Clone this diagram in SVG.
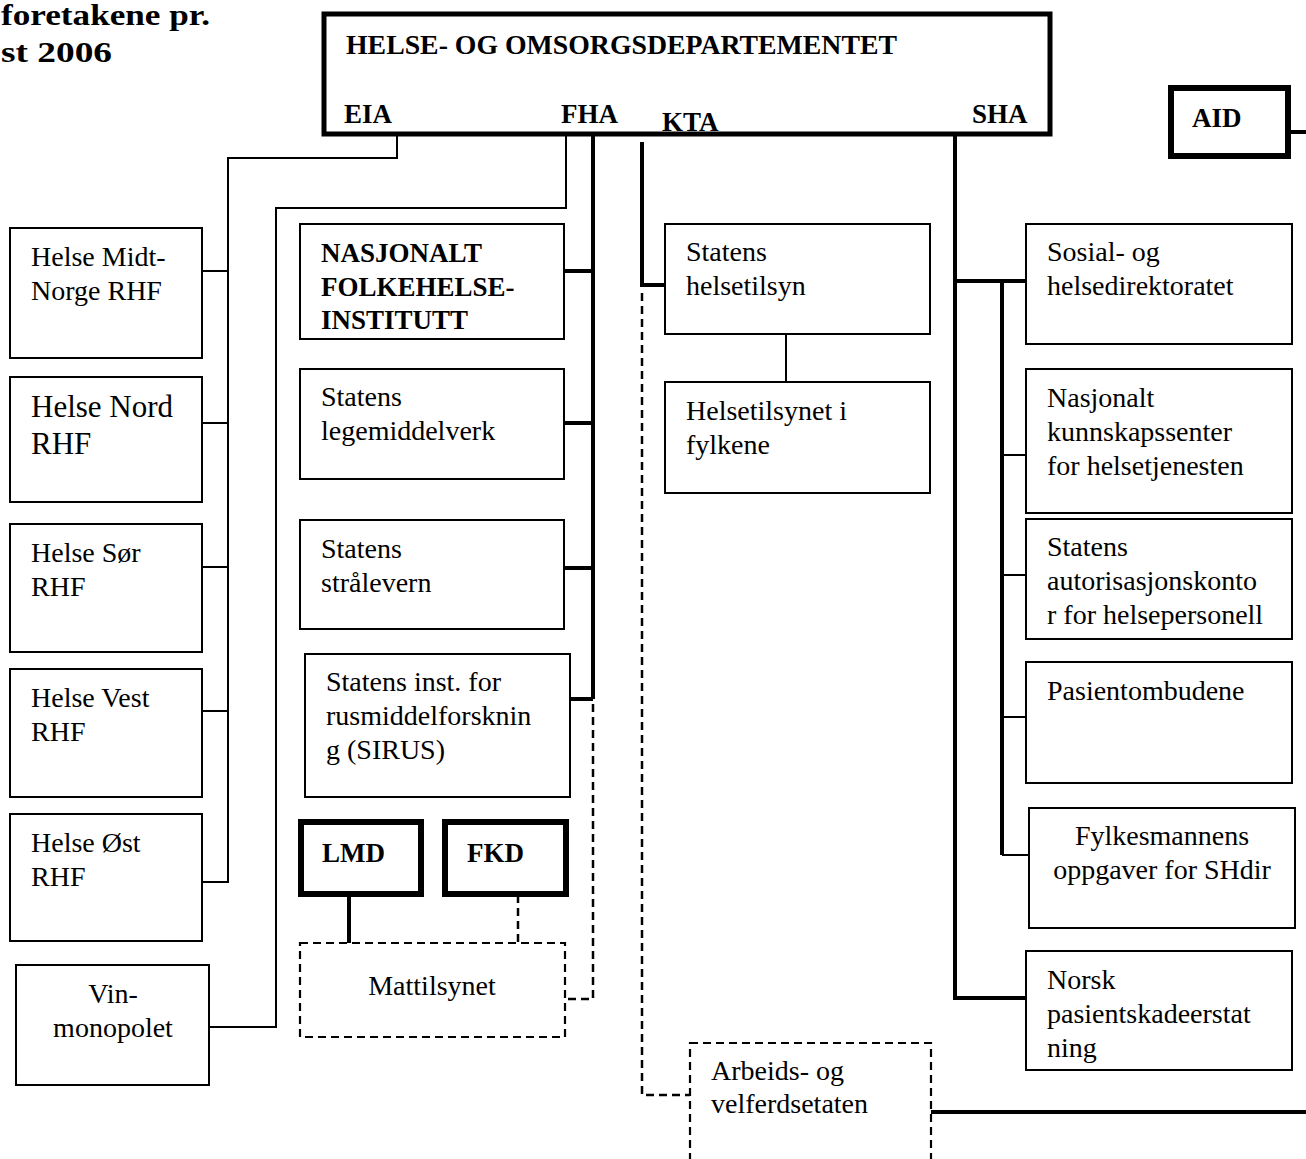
<svg xmlns="http://www.w3.org/2000/svg" width="1306" height="1159" viewBox="0 0 1306 1159">
<style>
.box{fill:#fff;stroke:#000;stroke-width:2}
.thk{stroke-width:6}
.hod{stroke-width:5}
.dbox{fill:#fff;stroke:#000;stroke-width:2.2;stroke-dasharray:8 5}
.ln{fill:none;stroke:#000;stroke-width:2}
.lt{fill:none;stroke:#000;stroke-width:4}
.ld{fill:none;stroke:#000;stroke-width:2.5;stroke-dasharray:8 5}
text{font-family:"Liberation Serif","Times New Roman",serif;font-size:28px;fill:#000}
.b{font-weight:bold;font-size:27px}
.c{text-anchor:middle}
</style>
<g id="title">
<text x="1" y="25" class="b" style="font-size:30px" textLength="209" lengthAdjust="spacingAndGlyphs">foretakene pr.</text>
<text x="1" y="62" class="b" style="font-size:30px" textLength="111" lengthAdjust="spacingAndGlyphs">st 2006</text>
</g>
<g id="connectors">
<polyline class="ln" points="397,136 397,158 228,158 228,883"/>
<line class="ln" x1="202" y1="271" x2="228" y2="271"/>
<line class="ln" x1="202" y1="423" x2="228" y2="423"/>
<line class="ln" x1="202" y1="567" x2="228" y2="567"/>
<line class="ln" x1="202" y1="711" x2="228" y2="711"/>
<line class="ln" x1="202" y1="882" x2="228" y2="882"/>
<polyline class="ln" points="566,136 566,208 276,208 276,1027 205,1027"/>
<line class="lt" x1="593" y1="136" x2="593" y2="699"/>
<line class="lt" x1="564" y1="271" x2="593" y2="271"/>
<line class="lt" x1="564" y1="423" x2="593" y2="423"/>
<line class="lt" x1="564" y1="568" x2="593" y2="568"/>
<line class="lt" x1="570" y1="699" x2="593" y2="699"/>
<polyline class="ld" points="593,704 593,999 566,999"/>
<polyline class="lt" points="642,142 642,285 665,285"/>
<polyline class="ld" points="642,293 642,1095 690,1095"/>
<line class="ln" x1="786" y1="334" x2="786" y2="382"/>
<line class="lt" x1="349" y1="895" x2="349" y2="943"/>
<line class="ld" x1="518" y1="895" x2="518" y2="943"/>
<line class="lt" x1="931" y1="1112" x2="1306" y2="1112"/>
<line class="lt" x1="1288" y1="132" x2="1306" y2="132"/>
<polyline class="lt" points="955,136 955,998 1026,998"/>
<line class="lt" x1="955" y1="281" x2="1026" y2="281"/>
<line class="lt" x1="1002" y1="281" x2="1002" y2="855"/>
<line class="ln" x1="1002" y1="455" x2="1026" y2="455"/>
<line class="ln" x1="1002" y1="575" x2="1026" y2="575"/>
<line class="ln" x1="1002" y1="717" x2="1026" y2="717"/>
<line class="ln" x1="1002" y1="855" x2="1029" y2="855"/>
</g>
<g id="hod">
<rect class="box hod" x="324" y="14" width="726" height="120"/>
<text x="346" y="54" class="b" textLength="551" lengthAdjust="spacingAndGlyphs">HELSE- OG OMSORGSDEPARTEMENTET</text>
<text x="344" y="123" class="b">EIA</text>
<text x="561" y="123" class="b">FHA</text>
<text x="662" y="131" class="b">KTA</text>
<text x="972" y="123" class="b">SHA</text>
</g>
<g id="aid">
<rect class="box thk" x="1171" y="88" width="117" height="68"/>
<text x="1192" y="127" class="b">AID</text>
</g>
<g id="helse-midt">
<rect class="box" x="10" y="228" width="192" height="130"/>
<text x="31" y="266">Helse Midt-<tspan x="31" dy="34">Norge RHF</tspan></text>
</g>
<g id="helse-nord">
<rect class="box" x="10" y="377" width="192" height="125"/>
<text x="31" y="417" style="font-size:31px">Helse Nord<tspan x="31" dy="37">RHF</tspan></text>
</g>
<g id="helse-sor">
<rect class="box" x="10" y="524" width="192" height="128"/>
<text x="31" y="562">Helse Sør<tspan x="31" dy="34">RHF</tspan></text>
</g>
<g id="helse-vest">
<rect class="box" x="10" y="669" width="192" height="128"/>
<text x="31" y="707">Helse Vest<tspan x="31" dy="34">RHF</tspan></text>
</g>
<g id="helse-ost">
<rect class="box" x="10" y="814" width="192" height="127"/>
<text x="31" y="852">Helse Øst<tspan x="31" dy="34">RHF</tspan></text>
</g>
<g id="vinmonopolet">
<rect class="box" x="16" y="965" width="193" height="120"/>
<text x="113" y="1003" class="c">Vin-<tspan x="113" dy="34">monopolet</tspan></text>
</g>
<g id="nfi">
<rect class="box" x="300" y="224" width="264" height="115"/>
<text x="321" y="262" class="b">NASJONALT<tspan x="321" dy="34">FOLKEHELSE-</tspan><tspan x="321" dy="33">INSTITUTT</tspan></text>
</g>
<g id="legemiddelverk">
<rect class="box" x="300" y="369" width="264" height="110"/>
<text x="321" y="406">Statens<tspan x="321" dy="34">legemiddelverk</tspan></text>
</g>
<g id="stralevern">
<rect class="box" x="300" y="520" width="264" height="109"/>
<text x="321" y="558">Statens<tspan x="321" dy="34">strålevern</tspan></text>
</g>
<g id="sirus">
<rect class="box" x="305" y="654" width="265" height="143"/>
<text x="326" y="691">Statens inst. for<tspan x="326" dy="34">rusmiddelforsknin</tspan><tspan x="326" dy="34">g (SIRUS)</tspan></text>
</g>
<g id="lmd">
<rect class="box thk" x="301" y="822" width="120" height="72"/>
<text x="322" y="862" class="b">LMD</text>
</g>
<g id="fkd">
<rect class="box thk" x="445" y="822" width="121" height="72"/>
<text x="467" y="862" class="b">FKD</text>
</g>
<g id="mattilsynet">
<rect class="dbox" x="300" y="943" width="265" height="94"/>
<text x="432" y="995" class="c">Mattilsynet</text>
</g>
<g id="helsetilsyn">
<rect class="box" x="665" y="224" width="265" height="110"/>
<text x="686" y="261">Statens<tspan x="686" dy="34">helsetilsyn</tspan></text>
</g>
<g id="helsetilsynet-fylkene">
<rect class="box" x="665" y="382" width="265" height="111"/>
<text x="686" y="420">Helsetilsynet i<tspan x="686" dy="34">fylkene</tspan></text>
</g>
<g id="arbeids">
<rect class="dbox" x="690" y="1043" width="241" height="130"/>
<text x="711" y="1080">Arbeids- og<tspan x="711" dy="33">velferdsetaten</tspan></text>
</g>
<g id="shdir">
<rect class="box" x="1026" y="224" width="266" height="120"/>
<text x="1047" y="261">Sosial- og<tspan x="1047" dy="34">helsedirektoratet</tspan></text>
</g>
<g id="kunnskapssenter">
<rect class="box" x="1026" y="369" width="266" height="144"/>
<text x="1047" y="407">Nasjonalt<tspan x="1047" dy="34">kunnskapssenter</tspan><tspan x="1047" dy="34">for helsetjenesten</tspan></text>
</g>
<g id="autorisasjon">
<rect class="box" x="1026" y="519" width="266" height="120"/>
<text x="1047" y="556">Statens<tspan x="1047" dy="34">autorisasjonskonto</tspan><tspan x="1047" dy="34">r for helsepersonell</tspan></text>
</g>
<g id="pasientombud">
<rect class="box" x="1026" y="662" width="266" height="121"/>
<text x="1047" y="700">Pasientombudene</text>
</g>
<g id="fylkesmann">
<rect class="box" x="1029" y="808" width="266" height="120"/>
<text x="1162" y="845" class="c">Fylkesmannens<tspan x="1162" dy="34">oppgaver for SHdir</tspan></text>
</g>
<g id="npe">
<rect class="box" x="1026" y="951" width="266" height="119"/>
<text x="1047" y="989">Norsk<tspan x="1047" dy="34">pasientskadeerstat</tspan><tspan x="1047" dy="34">ning</tspan></text>
</g>
</svg>
